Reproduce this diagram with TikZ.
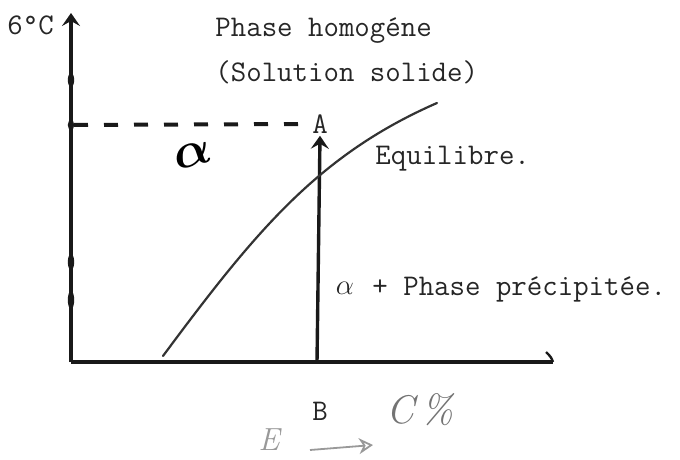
\documentclass[tikz,border=0pt]{standalone}
\usetikzlibrary{arrows.meta}
\begin{document}
\begin{tikzpicture}[x=0.5pt,y=-0.5pt,
  typed/.style={inner sep=0pt,font=\fontsize{15}{18}\selectfont\ttfamily,text=black!85},
  hand/.style={inner sep=0pt,text=black!55},
  axisline/.style={line width=2.4pt,draw=black!90},
  baseline/.style={line width=1.9pt,draw=black!90},
  arrowline/.style={line width=1.7pt,draw=black!90},
  curveline/.style={line width=1.1pt,draw=black!80,line cap=round},
  dashline/.style={line width=2pt,draw=black!90,dash pattern=on 7pt off 8pt},
  blob/.style={fill=black!90},
  tip/.style={-{Stealth[length=6.5pt,width=9pt,inset=2.5pt]}}]
\useasboundingbox (0,0) rectangle (680,460);

% coordinates
\coordinate (O) at (71,362);
\coordinate (Ytop) at (71,13);
\coordinate (Xend) at (553,362);
\coordinate (Bp) at (317,362);
\coordinate (D0) at (74,125);
\coordinate (K0) at (163,356);
\coordinate (K1) at (437,103);

% texts
\node[typed,anchor=base west] (T) at (7,35) {6°C};
\node[typed,anchor=base west] (ph) at (215,37) {Phase homogéne};
\node[typed,anchor=base west] (ss) at (215,82) {(Solution solide)};
\node[typed,anchor=base west] (eq) at (375,164) {Equilibre.};
\node[typed,anchor=base west] (pp) at (372,295) {+ Phase précipitée.};
\node[typed,inner sep=1pt] (A) at (320,124) {A};
\node[typed] (B) at (320,411) {B};
\node[inner sep=0pt,font=\fontsize{15}{15}\selectfont,text=black!85] (al2) at (345,288) {$\alpha$};
\node[inner sep=0pt,font=\fontsize{24}{24}\selectfont\boldmath,text=black,rotate=15] (al1) at (193,155) {$\alpha$};
\node[hand,font=\fontsize{20}{20}\selectfont\itshape] (C) at (420,410) {C\,\%};
\node[hand,text=black!40,font=\fontsize{16}{16}\selectfont\itshape] (E) at (269,440) {E};
\coordinate (Es) at (310,450);
\coordinate (Ee) at (373,445);

% axes
\draw[axisline,tip] (O) -- (Ytop);
\draw[baseline] (O) -- (Xend);
\draw[baseline,line width=1.2pt] (Xend) .. controls (551,357) .. (546,352);
\foreach \yy/\ry in {80/7,125/5,262/8,300/9}
  \fill[blob] (71,\yy) ellipse (3.2 and \ry);

% dashed level
\draw[dashline] (D0) -- (A.west);

% vertical A arrow
\draw[arrowline,tip] (Bp) -- (A.south);

% equilibrium curve
\draw[curveline] (K0) .. controls (255,232) and (318,155) .. (K1);

% handwritten E arrow
\draw[black!40,line width=0.9pt,-{Stealth[open,length=7pt,width=8pt]}] (Es) -- (Ee);
\end{tikzpicture}
\end{document}
